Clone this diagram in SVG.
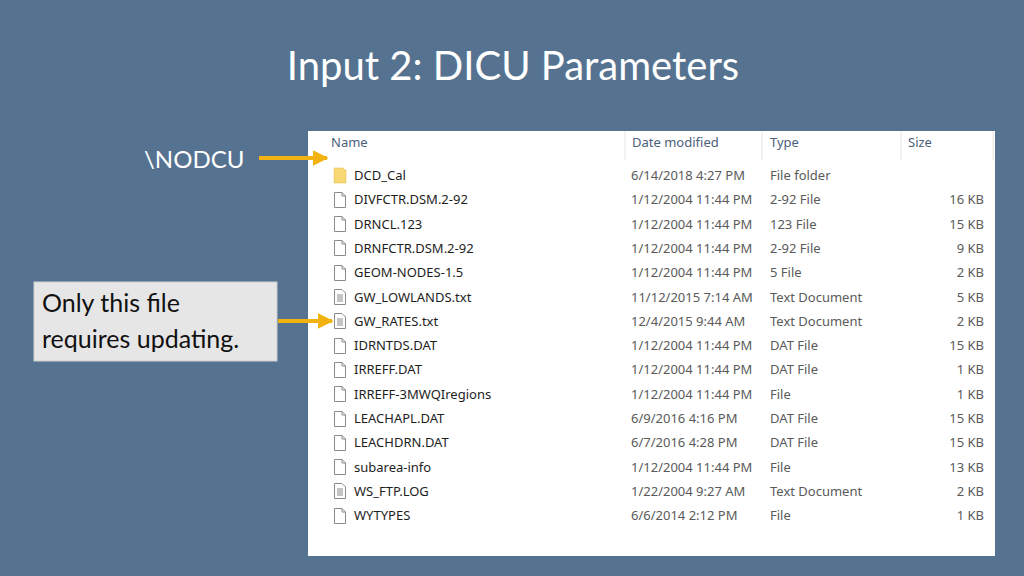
<svg xmlns="http://www.w3.org/2000/svg" width="1024" height="576" viewBox="0 0 1024 576">
<defs>
<style>
.t{font-family:"Segoe UI","Noto Sans",sans-serif;font-size:13px;fill:#1e1e1e}
.g{font-family:"Segoe UI","Noto Sans",sans-serif;font-size:13px;fill:#5a5a5a}
.h{font-family:"Segoe UI","Noto Sans",sans-serif;font-size:13px;fill:#4c607a}
.doc{fill:#fff;stroke:#8a8a8a;stroke-width:1}
.arr{stroke:#f2b20f;stroke-width:4;fill:none}
</style>
<marker id="ah" viewBox="0 0 10 10" refX="9" refY="5" markerWidth="4" markerHeight="4" orient="auto" markerUnits="strokeWidth"><path d="M0,0L10,5L0,10z" fill="#f2b20f"/></marker>
<symbol id="f" viewBox="0 0 12 16"><path class="doc" d="M0.5,0.5H8L11.5,4V15.5H0.5Z"/><path d="M8,0.5V4H11.5" fill="none" stroke="#8a8a8a"/></symbol>
<symbol id="d" viewBox="0 0 12 16"><path class="doc" d="M0.5,0.5H8L11.5,4V15.5H0.5Z"/><path d="M3,6H9M3,8H9M3,10H9M3,12H9" stroke="#8a8a8a"/></symbol>
</defs>
<rect width="1024" height="576" fill="#557391"/>
<text x="513" y="80" text-anchor="middle" font-family="Lato,'Open Sans',sans-serif" font-size="40" fill="#fff">Input 2: DICU Parameters</text>
<g id="panel">
<rect x="308" y="131" width="687" height="425" fill="#fff"/>
<g stroke="#e5e5e5"><line x1="625" y1="131" x2="625" y2="160"/><line x1="762" y1="131" x2="762" y2="160"/><line x1="901" y1="131" x2="901" y2="160"/><line x1="993" y1="131" x2="993" y2="160"/></g>
<text class="h" x="331" y="147">Name</text><text class="h" x="632" y="147">Date modified</text><text class="h" x="770" y="147">Type</text><text class="h" x="908" y="147">Size</text>
<path d="M334,168H343L345,170H346V183H334Z" fill="#f8d775" stroke="#e0b84a" stroke-width="0.5"/>
<g id="rows">
<text class="t" x="354" y="180">DCD_Cal</text><text class="g" x="631" y="180">6/14/2018 4:27 PM</text><text class="g" x="770" y="180">File folder</text>
<use href="#f" x="334" y="192" width="12" height="16"/><text class="t" x="354" y="204">DIVFCTR.DSM.2-92</text><text class="g" x="631" y="204">1/12/2004 11:44 PM</text><text class="g" x="770" y="204">2-92 File</text><text class="g" x="984" y="204" text-anchor="end">16 KB</text>
<use href="#f" x="334" y="216" width="12" height="16"/><text class="t" x="354" y="229">DRNCL.123</text><text class="g" x="631" y="229">1/12/2004 11:44 PM</text><text class="g" x="770" y="229">123 File</text><text class="g" x="984" y="229" text-anchor="end">15 KB</text>
<use href="#f" x="334" y="240" width="12" height="16"/><text class="t" x="354" y="253">DRNFCTR.DSM.2-92</text><text class="g" x="631" y="253">1/12/2004 11:44 PM</text><text class="g" x="770" y="253">2-92 File</text><text class="g" x="984" y="253" text-anchor="end">9 KB</text>
<use href="#f" x="334" y="265" width="12" height="16"/><text class="t" x="354" y="277">GEOM-NODES-1.5</text><text class="g" x="631" y="277">1/12/2004 11:44 PM</text><text class="g" x="770" y="277">5 File</text><text class="g" x="984" y="277" text-anchor="end">2 KB</text>
<use href="#d" x="334" y="289" width="12" height="16"/><text class="t" x="354" y="302">GW_LOWLANDS.txt</text><text class="g" x="631" y="302">11/12/2015 7:14 AM</text><text class="g" x="770" y="302">Text Document</text><text class="g" x="984" y="302" text-anchor="end">5 KB</text>
<use href="#d" x="334" y="313" width="12" height="16"/><text class="t" x="354" y="326">GW_RATES.txt</text><text class="g" x="631" y="326">12/4/2015 9:44 AM</text><text class="g" x="770" y="326">Text Document</text><text class="g" x="984" y="326" text-anchor="end">2 KB</text>
<use href="#f" x="334" y="338" width="12" height="16"/><text class="t" x="354" y="350">IDRNTDS.DAT</text><text class="g" x="631" y="350">1/12/2004 11:44 PM</text><text class="g" x="770" y="350">DAT File</text><text class="g" x="984" y="350" text-anchor="end">15 KB</text>
<use href="#f" x="334" y="362" width="12" height="16"/><text class="t" x="354" y="374">IRREFF.DAT</text><text class="g" x="631" y="374">1/12/2004 11:44 PM</text><text class="g" x="770" y="374">DAT File</text><text class="g" x="984" y="374" text-anchor="end">1 KB</text>
<use href="#f" x="334" y="386" width="12" height="16"/><text class="t" x="354" y="399">IRREFF-3MWQIregions</text><text class="g" x="631" y="399">1/12/2004 11:44 PM</text><text class="g" x="770" y="399">File</text><text class="g" x="984" y="399" text-anchor="end">1 KB</text>
<use href="#f" x="334" y="411" width="12" height="16"/><text class="t" x="354" y="423">LEACHAPL.DAT</text><text class="g" x="631" y="423">6/9/2016 4:16 PM</text><text class="g" x="770" y="423">DAT File</text><text class="g" x="984" y="423" text-anchor="end">15 KB</text>
<use href="#f" x="334" y="435" width="12" height="16"/><text class="t" x="354" y="447">LEACHDRN.DAT</text><text class="g" x="631" y="447">6/7/2016 4:28 PM</text><text class="g" x="770" y="447">DAT File</text><text class="g" x="984" y="447" text-anchor="end">15 KB</text>
<use href="#f" x="334" y="459" width="12" height="16"/><text class="t" x="354" y="472">subarea-info</text><text class="g" x="631" y="472">1/12/2004 11:44 PM</text><text class="g" x="770" y="472">File</text><text class="g" x="984" y="472" text-anchor="end">13 KB</text>
<use href="#d" x="334" y="483" width="12" height="16"/><text class="t" x="354" y="496">WS_FTP.LOG</text><text class="g" x="631" y="496">1/22/2004 9:27 AM</text><text class="g" x="770" y="496">Text Document</text><text class="g" x="984" y="496" text-anchor="end">2 KB</text>
<use href="#f" x="334" y="508" width="12" height="16"/><text class="t" x="354" y="520">WYTYPES</text><text class="g" x="631" y="520">6/6/2014 2:12 PM</text><text class="g" x="770" y="520">File</text><text class="g" x="984" y="520" text-anchor="end">1 KB</text>
</g>
</g>
<g id="nodcu"><text x="144" y="168" font-family="Lato,'Open Sans',sans-serif" font-size="24" fill="#fff">\NODCU</text></g>
<g id="note"><rect x="34" y="282" width="243" height="79" fill="#e6e6e6" stroke="#cfcfcf"/>
<text font-family="Lato,'Open Sans',sans-serif" font-size="25" fill="#111"><tspan x="42" y="312">Only this file</tspan><tspan x="42" y="348">requires updating.</tspan></text></g>
<g id="connectors">
<line class="arr" x1="259" y1="158" x2="327" y2="158" marker-end="url(#ah)"/>
<line class="arr" x1="278" y1="321" x2="332" y2="321" marker-end="url(#ah)"/>
</g>
</svg>
